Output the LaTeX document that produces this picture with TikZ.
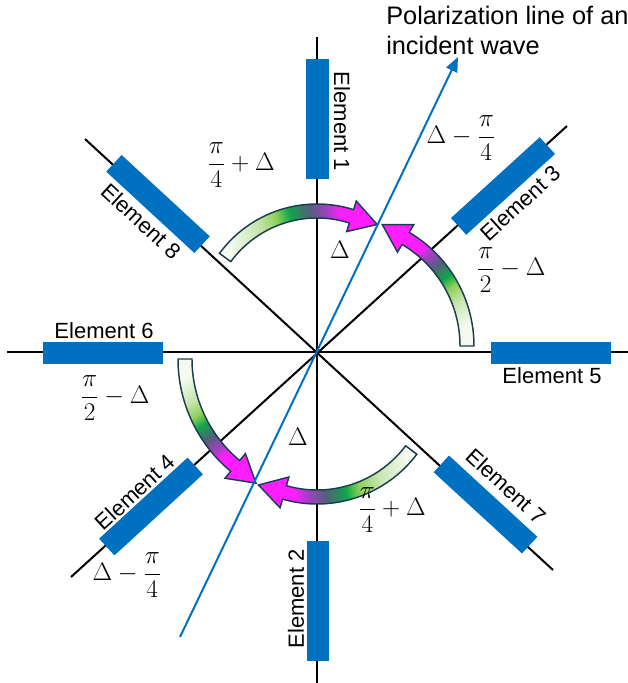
\RequirePackage{fix-cm}
\documentclass[tikz,border=0pt]{standalone}
\usepackage{amsmath}
\usepackage[no-math]{fontspec}
\setmainfont{Liberation Sans}
\usetikzlibrary{arrows.meta,calc,positioning}

\definecolor{elemblue}{HTML}{0070C0}
\definecolor{rimcol}{HTML}{1C3D4F}
\definecolor{tailc}{HTML}{F4FAF0}
\definecolor{lightg}{HTML}{C6E5AE}
\definecolor{yelg}{HTML}{8FD05A}
\definecolor{vgreen}{HTML}{0FA648}
\definecolor{slate}{HTML}{52607A}
\definecolor{violet}{HTML}{A040C0}
\definecolor{magen}{HTML}{FF1EFF}

\pgfdeclarehorizontalshading{bentfill}{100bp}{color(0bp)=(tailc); color(25bp)=(tailc); color(36bp)=(lightg); color(43bp)=(yelg); color(48bp)=(vgreen); color(55bp)=(slate); color(61bp)=(violet); color(66bp)=(magen); color(100bp)=(magen)}

\newcommand{\bentarrow}[7]{%
  \coordinate (#1) at (#2,#3);
  \pgfmathsetmacro{\turn}{#6>#5 ? 90 : -90}
  \path[bent, shading angle=#7]
    ($(#1)+(#5:{#4+7})$) arc[start angle=#5, end angle=#6, radius={#4+7}]
    -- ($(#1)+(#6:{#4+16})$)
    -- ($(#1)+(#6:#4)+({#6+\turn}:27)$)
    -- ($(#1)+(#6:{#4-16})$)
    -- ($(#1)+(#6:{#4-7})$) arc[start angle=#6, end angle=#5, radius={#4-7}]
    -- cycle;
}

\begin{document}
\begin{tikzpicture}[
    x=0.75pt, y=0.75pt,
    axis/.style={line width=1.5pt, black},
    elem/.style={rectangle, fill=elemblue, minimum width=90pt, minimum height=17pt, inner sep=0pt},
    elabel/.style={font=\fontsize{16.5}{19}\selectfont, inner sep=0pt},
    mlabel/.style={font=\fontsize{19}{22}\selectfont, inner sep=0pt},
    bent/.style={draw=rimcol, line width=1.1pt, shading=bentfill, line join=miter},
    polline/.style={-{Triangle[length=11pt,width=9pt]}, line width=1.5pt, elemblue}
]
    \useasboundingbox (0,0) rectangle (628,683);

    \coordinate (o) at (317,331);
    \coordinate (top) at (317,646);
    \coordinate (bot) at (317,0);
    \coordinate (lft) at (7,331);
    \coordinate (rgt) at (628,331);
    \coordinate (ne) at (567,557);
    \coordinate (sw) at (71,106);
    \coordinate (nw) at (85,544);
    \coordinate (se) at (553,113);

    \draw[axis] (top) -- (bot);
    \draw[axis] (lft) -- (rgt);
    \draw[axis] (ne) -- (sw);
    \draw[axis] (nw) -- (se);

    \node[elem, rotate=90] (e1) at (317.5,563.5) {};
    \node[elem, rotate=90] (e2) at (318,82) {};
    \node[elem, rotate=42.3] (e3) at (503,497) {};
    \node[elem, rotate=42.5] (e4) at (151,176.5) {};
    \node[elem] (e5) at (551,330) {};
    \node[elem] (e6) at (103,330) {};
    \node[elem, rotate=-42.6] (e7) at (485.5,178.5) {};
    \node[elem, rotate=-42.7] (e8) at (158,479) {};

    \node[elabel, rotate=-90] (l1) at (342,561.5) {Element 1};
    \node[elabel, rotate=90] (l2) at (296,84) {Element 2};
    \node[elabel, rotate=42.3] (l3) at (520,480) {Element 3};
    \node[elabel, rotate=42.5] (l4) at (135,191) {Element 4};
    \node[elabel] (l5) at (552,307) {Element 5};
    \node[elabel] (l6) at (104,352) {Element 6};
    \node[elabel, rotate=-42.6] (l7) at (506,197) {Element 7};
    \node[elabel, rotate=-42.7] (l8) at (141,462) {Element 8};

    \bentarrow{ca}{317}{358}{114}{143.7}{72.4}{12}
    \bentarrow{cb}{342}{337}{125}{0}{59.4}{126}
    \bentarrow{cc}{324}{324}{139}{180}{230.3}{301}
    \bentarrow{cd}{317}{304}{118}{323}{254}{190}

    \node[mlabel] (m1) at (241,518) {$\dfrac{\pi}{4}+\Delta$};
    \node[mlabel] (m2) at (340,433) {$\Delta$};
    \node[mlabel] (m3) at (461,545) {$\Delta-\dfrac{\pi}{4}$};
    \node[mlabel] (m4) at (511,413) {$\dfrac{\pi}{2}-\Delta$};
    \node[mlabel] (m5) at (115,285) {$\dfrac{\pi}{2}-\Delta$};
    \node[mlabel] (m6) at (298,246) {$\Delta$};
    \node[mlabel] (m7) at (392,173) {$\dfrac{\pi}{4}+\Delta$};
    \node[mlabel] (m8) at (127,108) {$\Delta-\dfrac{\pi}{4}$};

    \coordinate (ptail) at (180,46);
    \coordinate (phead) at (458,626);
    \draw[polline] (ptail) -- (phead);
    \node[anchor=north west, align=left, inner sep=0pt, font=\fontsize{19}{22.5}\selectfont] (pl) at (386,677) {Polarization line of an\\incident wave};
\end{tikzpicture}
\end{document}
